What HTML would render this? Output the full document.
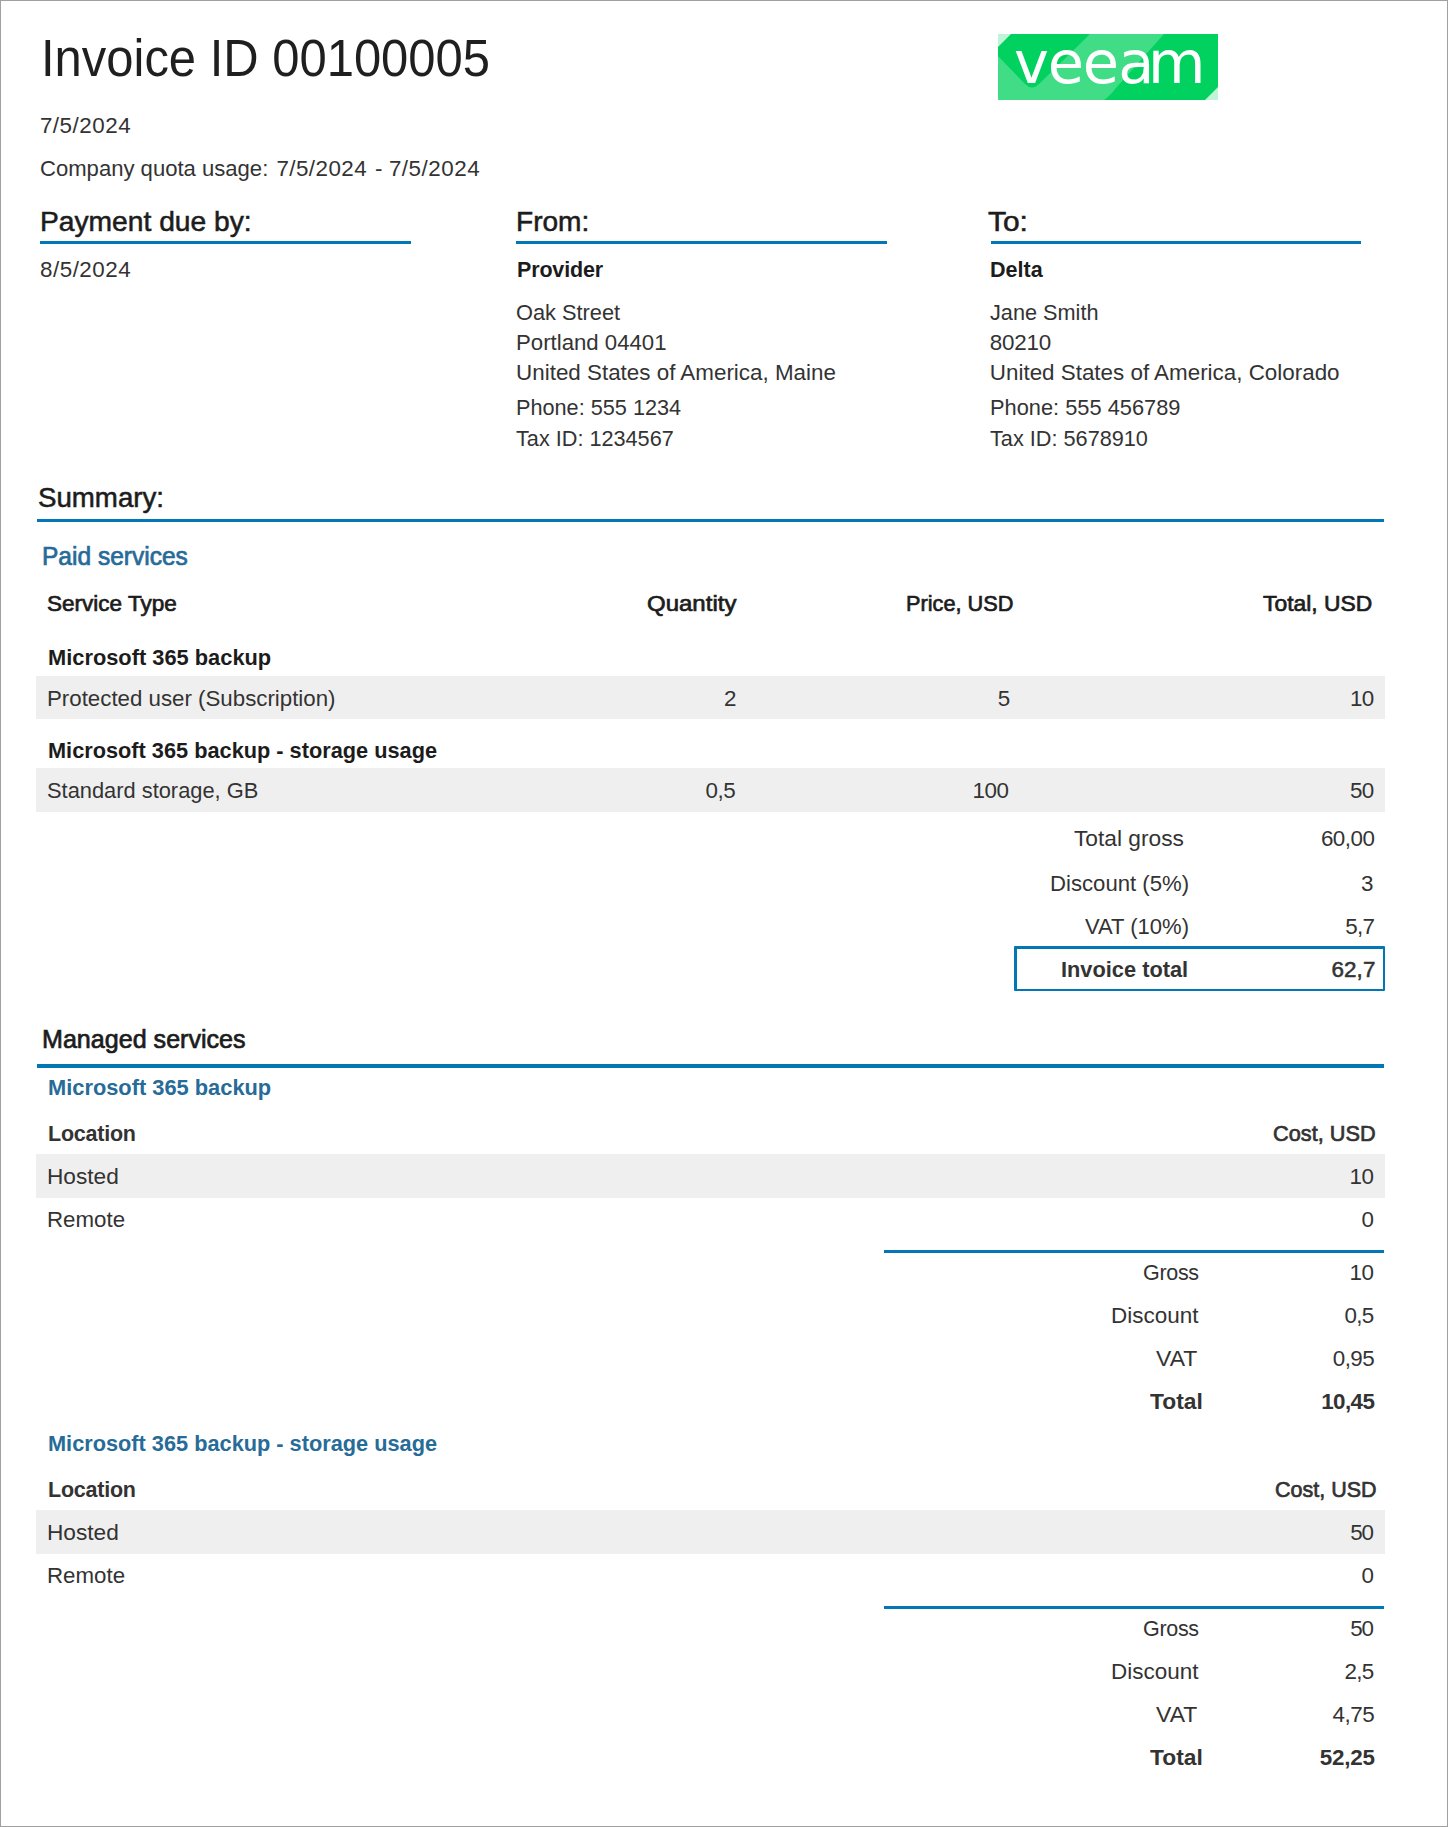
<!DOCTYPE html>
<html lang="en">
<head>
<meta charset="utf-8">
<title>Invoice ID 00100005</title>
<style>
html,body{margin:0;padding:0;background:#fff;}
body{width:1448px;height:1827px;position:relative;overflow:hidden;font-family:"Liberation Sans",Arial,sans-serif;color:#212121;}
.page{position:absolute;left:0;top:0;width:1446px;height:1825px;border:1px solid #a0a0a0;background:#fff;}
.t{position:absolute;white-space:nowrap;line-height:1;margin:0;padding:0;transform-origin:0 0;}
.b{font-weight:bold;}
.r{position:absolute;}
</style>
</head>
<body>
<div class="page"></div>
<header class="invoice-header">
<svg class="r" style="left:998px;top:34px;" width="220" height="66" viewBox="0 0 220 66">
<rect x="0" y="0" width="220" height="66" fill="#40dd86"/>
<path d="M0,0 L92,0 L41,50 Q34,57 27,50 L0,22 Z" fill="#00d15f"/>
<path d="M166,0 L220,0 L220,66 L106,66 Q112,62 118,54 Z" fill="#00d15f"/>
<polygon points="0,0 13,0 0,13" fill="#ffffff" fill-opacity="0.75"/>
<polygon points="220,66 207,66 220,53" fill="#ffffff" fill-opacity="0.75"/>
<text x="16.1 49.7 84.7 120.3 149.9" y="49" font-family="DejaVu Sans, Liberation Sans, sans-serif" font-size="59" fill="#ffffff">veeam</text>
</svg>
<div class="t" style="left:40.59px;top:33px;font-size:51px;letter-spacing:-0.006px;transform:scaleX(0.9600);color:#1f1f1f;">Invoice ID 00100005</div>
<div class="t" style="left:39.88px;top:115px;font-size:22.4px;letter-spacing:0.522px;color:#333333;">7/5/2024</div>
<div class="t" style="left:39.90px;top:158px;font-size:22.4px;transform:scaleX(0.9859);color:#333333;">Company quota usage:</div>
<div class="t" style="left:276.38px;top:158px;font-size:22.4px;letter-spacing:0.451px;color:#333333;">7/5/2024</div>
<div class="t" style="left:374.99px;top:158px;font-size:22.4px;color:#333333;">-</div>
<div class="t" style="left:388.88px;top:158px;font-size:22.4px;letter-spacing:0.522px;color:#333333;">7/5/2024</div>
</header>
<section class="parties">
<div class="t" style="left:39.74px;top:208px;font-size:28px;transform:scaleX(1.0074);color:#1c1c1c;-webkit-text-stroke:0.55px #1c1c1c;">Payment due by:</div>
<div class="t" style="left:515.50px;top:208px;font-size:28px;transform:scaleX(1.0026);color:#1c1c1c;-webkit-text-stroke:0.55px #1c1c1c;">From:</div>
<div class="t" style="left:988.40px;top:208px;font-size:28px;transform:scaleX(1.0685);color:#1c1c1c;-webkit-text-stroke:0.55px #1c1c1c;">To:</div>
<div class="r" style="left:40px;top:241px;width:371px;height:3px;background:#0277b5;"></div>
<div class="r" style="left:516px;top:241px;width:371px;height:3px;background:#0277b5;"></div>
<div class="r" style="left:991px;top:241px;width:370px;height:3px;background:#0277b5;"></div>
<div class="t" style="left:39.99px;top:259px;font-size:22.4px;letter-spacing:0.506px;color:#333333;">8/5/2024</div>
<div class="t b" style="left:516.60px;top:259px;font-size:22.4px;letter-spacing:-0.162px;transform:scaleX(0.9600);color:#1c1c1c;">Provider</div>
<div class="t b" style="left:990.10px;top:259px;font-size:22.4px;transform:scaleX(0.9620);color:#1c1c1c;">Delta</div>
<div class="t" style="left:516.02px;top:302px;font-size:22.4px;transform:scaleX(0.9732);color:#333333;">Oak Street</div>
<div class="t" style="left:515.97px;top:332px;font-size:22.4px;transform:scaleX(0.9911);color:#333333;">Portland 04401</div>
<div class="t" style="left:516.07px;top:362px;font-size:22.4px;color:#333333;">United States of America, Maine</div>
<div class="t" style="left:516.02px;top:397px;font-size:22.4px;transform:scaleX(0.9681);color:#333333;">Phone: 555 1234</div>
<div class="t" style="left:516.32px;top:428px;font-size:22.4px;transform:scaleX(0.9675);color:#333333;">Tax ID: 1234567</div>
<div class="t" style="left:989.92px;top:302px;font-size:22.4px;transform:scaleX(0.9686);color:#333333;">Jane Smith</div>
<div class="t" style="left:989.74px;top:332px;font-size:22.4px;letter-spacing:-0.182px;color:#333333;">80210</div>
<div class="t" style="left:989.82px;top:362px;font-size:22.4px;color:#333333;">United States of America, Colorado</div>
<div class="t" style="left:989.75px;top:397px;font-size:22.4px;transform:scaleX(0.9740);color:#333333;">Phone: 555 456789</div>
<div class="t" style="left:989.82px;top:428px;font-size:22.4px;transform:scaleX(0.9685);color:#333333;">Tax ID: 5678910</div>
</section>
<section class="summary paid-services">
<div class="t" style="left:37.76px;top:484px;font-size:28px;transform:scaleX(0.9878);color:#1c1c1c;-webkit-text-stroke:0.55px #1c1c1c;">Summary:</div>
<div class="r" style="left:37px;top:519px;width:1347px;height:3px;background:#0277b5;"></div>
<div class="t" style="left:42.04px;top:544px;font-size:25.1px;transform:scaleX(0.9772);color:#276b98;-webkit-text-stroke:0.7px #276b98;">Paid services</div>
<div class="t" style="left:46.99px;top:593px;font-size:22.4px;transform:scaleX(1.0058);color:#1c1c1c;-webkit-text-stroke:0.7px #1c1c1c;">Service Type</div>
<div class="t" style="left:646.62px;top:593px;font-size:22.4px;letter-spacing:0.026px;transform:scaleX(1.0700);color:#1c1c1c;-webkit-text-stroke:0.7px #1c1c1c;">Quantity</div>
<div class="t" style="left:905.66px;top:593px;font-size:22.4px;transform:scaleX(0.9697);color:#1c1c1c;-webkit-text-stroke:0.7px #1c1c1c;">Price, USD</div>
<div class="t" style="left:1262.74px;top:593px;font-size:22.4px;transform:scaleX(1.0208);color:#1c1c1c;-webkit-text-stroke:0.7px #1c1c1c;">Total, USD</div>
<div class="t b" style="left:47.58px;top:647px;font-size:22.4px;transform:scaleX(0.9749);color:#1c1c1c;">Microsoft 365 backup</div>
<div class="r" style="left:36px;top:676px;width:1349px;height:43px;background:#efefef;"></div>
<div class="t" style="left:47.22px;top:688px;font-size:22.4px;transform:scaleX(0.9950);color:#333333;">Protected user (Subscription)</div>
<div class="t" style="left:723.99px;top:688px;font-size:22.4px;color:#333333;">2</div>
<div class="t" style="left:997.76px;top:688px;font-size:22.4px;color:#333333;">5</div>
<div class="t" style="left:1349.92px;top:688px;font-size:22.4px;letter-spacing:-0.600px;color:#333333;">10</div>
<div class="t b" style="left:47.59px;top:740px;font-size:22.4px;transform:scaleX(0.9709);color:#1c1c1c;">Microsoft 365 backup - storage usage</div>
<div class="r" style="left:36px;top:768px;width:1349px;height:44px;background:#efefef;"></div>
<div class="t" style="left:46.77px;top:780px;font-size:22.4px;transform:scaleX(0.9756);color:#333333;">Standard storage, GB</div>
<div class="t" style="left:705.40px;top:780px;font-size:22.4px;letter-spacing:-0.447px;color:#333333;">0,5</div>
<div class="t" style="left:972.52px;top:780px;font-size:22.4px;letter-spacing:-0.416px;color:#333333;">100</div>
<div class="t" style="left:1349.90px;top:780px;font-size:22.4px;letter-spacing:-0.584px;color:#333333;">50</div>
<div class="t" style="left:1073.79px;top:828px;font-size:22.4px;transform:scaleX(1.0157);color:#333333;">Total gross</div>
<div class="t" style="left:1320.88px;top:828px;font-size:22.4px;letter-spacing:-0.461px;color:#333333;">60,00</div>
<div class="t" style="left:1050.23px;top:873px;font-size:22.4px;transform:scaleX(0.9896);color:#333333;">Discount (5%)</div>
<div class="t" style="left:1360.96px;top:873px;font-size:22.4px;color:#333333;">3</div>
<div class="t" style="left:1085.39px;top:916px;font-size:22.4px;transform:scaleX(0.9830);color:#333333;">VAT (10%)</div>
<div class="t" style="left:1345.35px;top:916px;font-size:22.4px;letter-spacing:-0.810px;color:#333333;">5,7</div>
<div class="r" style="left:1014px;top:946px;width:371px;height:45px;background:transparent;box-sizing:border-box;border:solid #0277b5;border-width:3px 2px 2px 3px;border-radius:1px;"></div>
<div class="t b" style="left:1061.33px;top:959px;font-size:22.4px;transform:scaleX(0.9731);color:#333333;">Invoice total</div>
<div class="t" style="left:1331.38px;top:959px;font-size:22.4px;letter-spacing:0.141px;color:#333333;-webkit-text-stroke:0.55px #333333;">62,7</div>
</section>
<section class="managed-services">
<div class="t" style="left:41.99px;top:1027px;font-size:25.1px;color:#1c1c1c;-webkit-text-stroke:0.7px #1c1c1c;">Managed services</div>
<div class="r" style="left:37px;top:1064px;width:1347px;height:4px;background:#0277b5;"></div>
<div class="t b" style="left:47.58px;top:1077px;font-size:22.4px;transform:scaleX(0.9749);color:#276b98;">Microsoft 365 backup</div>
<div class="t b" style="left:47.60px;top:1123px;font-size:22.4px;letter-spacing:-0.242px;transform:scaleX(0.9600);color:#333333;">Location</div>
<div class="t" style="left:1272.66px;top:1123px;font-size:22.4px;transform:scaleX(0.9701);color:#333333;-webkit-text-stroke:0.7px #333333;">Cost, USD</div>
<div class="r" style="left:36px;top:1154px;width:1349px;height:44px;background:#efefef;"></div>
<div class="t" style="left:47.19px;top:1166px;font-size:22.4px;transform:scaleX(1.0126);color:#333333;">Hosted</div>
<div class="t" style="left:1349.57px;top:1166px;font-size:22.4px;letter-spacing:-0.400px;color:#333333;">10</div>
<div class="t" style="left:47.22px;top:1209px;font-size:22.4px;transform:scaleX(0.9954);color:#333333;">Remote</div>
<div class="t" style="left:1361.60px;top:1209px;font-size:22.4px;color:#333333;">0</div>
<div class="r" style="left:884px;top:1250px;width:500px;height:3px;background:#0277b5;"></div>
<div class="t" style="left:1142.67px;top:1262px;font-size:22.4px;letter-spacing:-0.320px;transform:scaleX(0.9600);color:#333333;">Gross</div>
<div class="t" style="left:1349.57px;top:1262px;font-size:22.4px;letter-spacing:-0.400px;color:#333333;">10</div>
<div class="t" style="left:1110.70px;top:1305px;font-size:22.4px;transform:scaleX(1.0031);color:#333333;">Discount</div>
<div class="t" style="left:1344.60px;top:1305px;font-size:22.4px;letter-spacing:-0.797px;color:#333333;">0,5</div>
<div class="t" style="left:1156.13px;top:1348px;font-size:22.4px;transform:scaleX(1.0278);color:#333333;">VAT</div>
<div class="t" style="left:1332.85px;top:1348px;font-size:22.4px;letter-spacing:-0.592px;color:#333333;">0,95</div>
<div class="t b" style="left:1150.02px;top:1391px;font-size:22.4px;transform:scaleX(1.0187);color:#333333;">Total</div>
<div class="t b" style="left:1321.16px;top:1391px;font-size:22.4px;letter-spacing:-0.586px;color:#333333;">10,45</div>
<div class="t b" style="left:47.59px;top:1433px;font-size:22.4px;transform:scaleX(0.9709);color:#276b98;">Microsoft 365 backup - storage usage</div>
<div class="t b" style="left:47.60px;top:1479px;font-size:22.4px;letter-spacing:-0.242px;transform:scaleX(0.9600);color:#333333;">Location</div>
<div class="t" style="left:1275.17px;top:1479px;font-size:22.4px;transform:scaleX(0.9604);color:#333333;-webkit-text-stroke:0.7px #333333;">Cost, USD</div>
<div class="r" style="left:36px;top:1510px;width:1349px;height:44px;background:#efefef;"></div>
<div class="t" style="left:47.19px;top:1522px;font-size:22.4px;transform:scaleX(1.0126);color:#333333;">Hosted</div>
<div class="t" style="left:1350.35px;top:1522px;font-size:22.4px;letter-spacing:-1.184px;color:#333333;">50</div>
<div class="t" style="left:47.22px;top:1565px;font-size:22.4px;transform:scaleX(0.9954);color:#333333;">Remote</div>
<div class="t" style="left:1361.60px;top:1565px;font-size:22.4px;color:#333333;">0</div>
<div class="r" style="left:884px;top:1606px;width:500px;height:3px;background:#0277b5;"></div>
<div class="t" style="left:1142.67px;top:1618px;font-size:22.4px;letter-spacing:-0.320px;transform:scaleX(0.9600);color:#333333;">Gross</div>
<div class="t" style="left:1350.35px;top:1618px;font-size:22.4px;letter-spacing:-1.184px;color:#333333;">50</div>
<div class="t" style="left:1110.70px;top:1661px;font-size:22.4px;transform:scaleX(1.0031);color:#333333;">Discount</div>
<div class="t" style="left:1344.38px;top:1661px;font-size:22.4px;letter-spacing:-0.685px;color:#333333;">2,5</div>
<div class="t" style="left:1156.13px;top:1704px;font-size:22.4px;transform:scaleX(1.0278);color:#333333;">VAT</div>
<div class="t" style="left:1332.55px;top:1704px;font-size:22.4px;letter-spacing:-0.491px;color:#333333;">4,75</div>
<div class="t b" style="left:1150.02px;top:1747px;font-size:22.4px;transform:scaleX(1.0187);color:#333333;">Total</div>
<div class="t b" style="left:1319.83px;top:1747px;font-size:22.4px;letter-spacing:-0.255px;color:#333333;">52,25</div>
</section>
</body>
</html>
